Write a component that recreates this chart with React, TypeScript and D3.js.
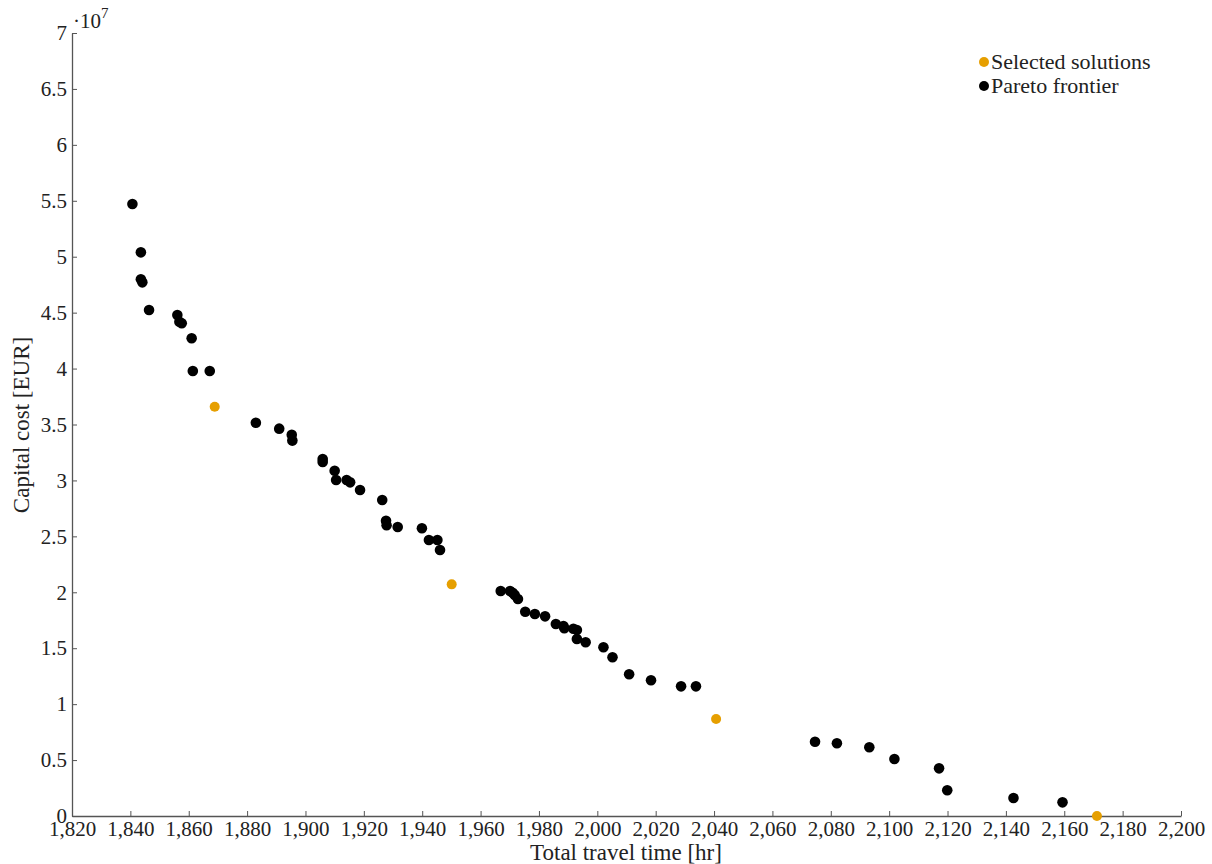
import React, { useRef, useEffect } from "react";
import * as d3 from "d3";

// Pareto frontier (travel time [hr], capital cost [EUR])
const paretoTime = [
  1840.7, 1843.6, 1843.6, 1844.1, 1846.4, 1856.1, 1856.8, 1857.6, 1861.0, 1861.4, 1867.2,
  1883.0, 1891.0, 1895.3, 1895.5, 1905.9, 1905.9, 1910.0, 1910.5, 1914.1, 1915.3, 1918.7,
  1926.3, 1927.6, 1927.8, 1931.6, 1939.9, 1942.3, 1945.2, 1946.1,
  1966.9, 1970.1, 1971.0, 1971.7, 1972.8, 1975.3, 1978.6, 1982.1, 1985.8, 1988.4, 1988.7,
  1991.8, 1993.0, 1993.0, 1996.0, 2002.1, 2005.2, 2010.9, 2018.4, 2028.7, 2033.8,
  2074.6, 2082.1, 2093.2, 2101.8, 2117.1, 2119.9, 2142.6, 2159.4
];
const paretoCost = [
  54.71, 50.39, 47.98, 47.71, 45.23, 44.78, 44.19, 44.05, 42.71, 39.78, 39.78,
  35.16, 34.63, 34.09, 33.56, 31.91, 31.65, 30.87, 30.04, 30.04, 29.83, 29.14,
  28.25, 26.40, 25.99, 25.84, 25.72, 24.67, 24.67, 23.78,
  20.11, 20.11, 19.96, 19.76, 19.40, 18.26, 18.06, 17.85, 17.16, 16.99, 16.78,
  16.74, 16.63, 15.82, 15.53, 15.08, 14.19, 12.67, 12.13, 11.59, 11.59,
  6.64, 6.50, 6.14, 5.10, 4.26, 2.30, 1.61, 1.22
].map(v => v * 1e6);

const selectedTime = [1868.9, 1950.1, 2040.7, 2171.2];
const selectedCost = [36.59, 20.71, 8.67, 0.0].map(v => v * 1e6);

const xTicks = d3.range(1820, 2201, 20);
const yTicks = d3.range(0, 7.01e7, 0.5e7);

const legendItems = [
  { label: "Selected solutions", color: "#E69F00" },
  { label: "Pareto frontier", color: "#000000" }
];

const font = "'Liberation Serif', 'Times New Roman', serif";
const axisColor = "#555555";

const App = () => {
  const chart = useRef<SVGSVGElement>(null);

  useEffect(() => {
    const svg = d3.select(chart.current);
    svg.selectAll("*").remove();

    const x = d3.scaleLinear().domain([1820, 2200]).range([72, 1181]);
    const y = d3.scaleLinear().domain([0, 7e7]).range([816, 33]);

    // axes, ticks pointing inwards
    const xAxis = svg.append("g").attr("transform", `translate(0,${y(0)})`)
      .call(d3.axisBottom(x).tickValues(xTicks).tickSizeInner(-5).tickSizeOuter(0)
        .tickFormat(d3.format(",")));
    const yAxis = svg.append("g").attr("transform", `translate(${x(1820)},0)`)
      .call(d3.axisLeft(y).tickValues(yTicks).tickSizeInner(-5).tickSizeOuter(0)
        .tickPadding(5).tickFormat(d => d3.format("~g")(+d / 1e7)));

    [xAxis, yAxis].forEach(a => {
      a.select(".domain").attr("stroke", axisColor).attr("stroke-width", 1.3);
      a.selectAll(".tick line").attr("stroke", axisColor);
      a.selectAll("text").attr("fill", "#222").style("font-family", font).style("font-size", "21px");
    });
    xAxis.selectAll("text").attr("y", 20).attr("dy", 0);

    svg.append("text").attr("x", x(1820) + 1).attr("y", 28)
      .style("font-family", font).style("font-size", "21px").attr("fill", "#222")
      .text("·10")
      .append("tspan").attr("dy", -10).style("font-size", "15px").text("7");

    svg.append("text").attr("x", 626).attr("y", 860).attr("text-anchor", "middle")
      .style("font-family", font).style("font-size", "23px").attr("fill", "#222")
      .text("Total travel time [hr]");
    svg.append("text").attr("transform", "translate(29,425) rotate(-90)").attr("text-anchor", "middle")
      .style("font-family", font).style("font-size", "23px").attr("fill", "#222")
      .text("Capital cost [EUR]");

    // points
    svg.append("g").selectAll("circle")
      .data(paretoTime.map((t, i) => [t, paretoCost[i]]))
      .join("circle")
      .attr("cx", d => x(d[0])).attr("cy", d => y(d[1])).attr("r", 5.3)
      .attr("fill", "#000");

    svg.append("g").selectAll("circle")
      .data(selectedTime.map((t, i) => [t, selectedCost[i]]))
      .join("circle")
      .attr("cx", d => x(d[0])).attr("cy", d => y(d[1])).attr("r", 5)
      .attr("fill", "#E69F00");

    // legend
    const legend = svg.append("g").selectAll("g").data(legendItems).join("g")
      .attr("transform", (d, i) => `translate(984,${62 + i * 24})`);
    legend.append("circle").attr("r", 5).attr("fill", d => d.color);
    legend.append("text").attr("x", 7).attr("y", 7)
      .style("font-family", font).style("font-size", "22px").attr("fill", "#222")
      .text(d => d.label);
  }, []);

  return (
    <div>
      <svg ref={chart} width={1212} height={864}
        style={{ position: "absolute", left: 0, top: 0, background: "#fff" }}></svg>
    </div>
  );
};

export default App;
